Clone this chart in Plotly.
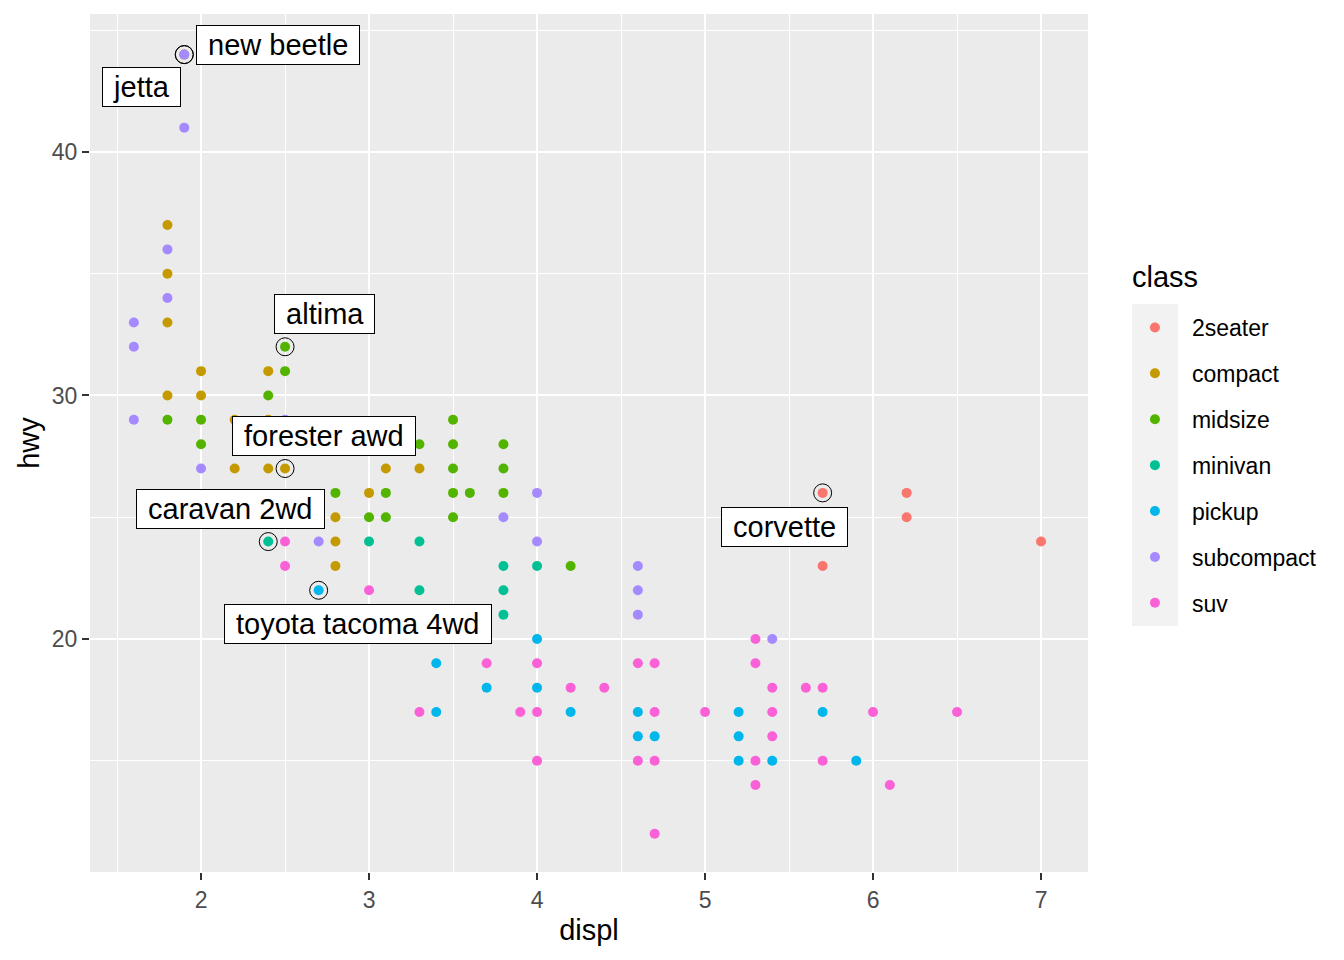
import plotly.graph_objects as go

# mpg: displ vs hwy, coloured by class (unique positions)
classes = ["2seater", "compact", "midsize", "minivan", "pickup", "subcompact", "suv"]
colors = ["#F8766D", "#C49A00", "#53B400", "#00C094", "#00B6EB", "#A58AFF", "#FB61D7"]

seater_displ = [5.7, 5.7, 6.2, 6.2, 7.0]
seater_hwy = [26, 23, 26, 25, 24]

compact_displ = [1.8, 1.8, 1.8, 1.8, 1.9, 2.0, 2.0, 2.2, 2.2, 2.4, 2.4, 2.4, 2.5,
                 2.8, 2.8, 2.8, 3.0, 3.1, 3.3]
compact_hwy = [37, 35, 33, 30, 44, 31, 30, 29, 27, 31, 29, 27, 27,
               25, 24, 23, 26, 27, 27]

midsize_displ = [1.8, 2.0, 2.0, 2.4, 2.5, 2.5, 2.8, 3.0, 3.1, 3.1, 3.3, 3.5, 3.5,
                 3.5, 3.5, 3.5, 3.6, 3.8, 3.8, 3.8, 4.2]
midsize_hwy = [29, 29, 28, 30, 32, 31, 26, 25, 26, 25, 28, 29, 28,
               27, 26, 25, 26, 28, 27, 26, 23]

minivan_displ = [2.4, 3.0, 3.3, 3.3, 3.8, 3.8, 3.8, 4.0]
minivan_hwy = [24, 24, 24, 22, 23, 22, 21, 23]

pickup_displ = [2.7, 3.4, 3.4, 3.7, 4.0, 4.0, 4.2, 4.6, 4.6, 4.7, 5.2, 5.2, 5.2,
                5.4, 5.7, 5.9]
pickup_hwy = [22, 19, 17, 18, 20, 18, 17, 17, 16, 16, 17, 16, 15,
              15, 17, 15]

subcompact_displ = [1.6, 1.6, 1.6, 1.8, 1.8, 1.9, 1.9, 2.0, 2.5, 2.7, 3.8, 4.0,
                    4.0, 4.6, 4.6, 4.6, 5.4]
subcompact_hwy = [33, 32, 29, 36, 34, 44, 41, 27, 29, 24, 25, 26,
                  24, 23, 22, 21, 20]

suv_displ = [2.5, 2.5, 3.0, 3.3, 3.7, 3.9, 4.0, 4.0, 4.0, 4.2, 4.4, 4.6, 4.6, 4.7,
             4.7, 4.7, 4.7, 5.0, 5.3, 5.3, 5.3, 5.3, 5.4, 5.4, 5.4, 5.6, 5.7,
             5.7, 6.0, 6.1, 6.5]
suv_hwy = [24, 23, 22, 17, 19, 17, 19, 17, 15, 18, 18, 19, 15, 19,
           17, 15, 12, 17, 20, 19, 15, 14, 18, 17, 16, 18, 18,
           15, 17, 14, 17]

# best in class (highest hwy per class)
label_text = ["corvette", "jetta", "altima", "caravan 2wd", "toyota tacoma 4wd",
              "new beetle", "forester awd"]
label_displ = [5.7, 1.9, 2.5, 2.4, 2.7, 1.9, 2.5]
label_hwy = [26, 44, 32, 24, 22, 44, 27]

all_displ = [seater_displ, compact_displ, midsize_displ, minivan_displ,
             pickup_displ, subcompact_displ, suv_displ]
all_hwy = [seater_hwy, compact_hwy, midsize_hwy, minivan_hwy,
           pickup_hwy, subcompact_hwy, suv_hwy]

# label offsets in pixels (repel placement)
label_shift = [(-38, -34), (-43, -32), (39, 33), (-38, 33), (39, -34), (94, 10), (39, 33)]

FONT = "Liberation Sans, Arial, sans-serif"

fig = go.Figure()

for cls, col, xs, ys in zip(classes, colors, all_displ, all_hwy):
    fig.add_trace(go.Scatter(
        x=xs, y=ys, mode="markers", name=cls, legendgroup=cls,
        marker=dict(color=col, size=10, line=dict(width=0)),
    ))

# hollow circles around the labelled points
fig.add_trace(go.Scatter(
    x=label_displ, y=label_hwy, mode="markers", showlegend=False,
    marker=dict(symbol="circle-open", size=18, color="black", line=dict(width=1)),
))

for txt, x, y, (dx, dy) in zip(label_text, label_displ, label_hwy, label_shift):
    fig.add_annotation(
        x=x, y=y, text="\u00a0" + txt + "\u00a0", showarrow=False,
        xshift=dx, yshift=dy,
        font=dict(family=FONT, size=29, color="black"),
        bgcolor="white", bordercolor="black", borderwidth=1, borderpad=3,
    )

# legend title and grey backing of the legend keys
fig.add_annotation(
    text="class", xref="paper", yref="paper", x=1.042, y=0.693,
    xanchor="left", yanchor="middle", showarrow=False,
    font=dict(family=FONT, size=29, color="black"),
)
fig.add_shape(type="rect", xref="paper", yref="paper",
              x0=1.0441, x1=1.0902, y0=0.2867, y1=0.662,
              fillcolor="#F2F2F2", line=dict(width=0), layer="below")

axis_common = dict(
    showline=False, zeroline=False,
    gridcolor="white", gridwidth=2,
    ticks="outside", ticklen=7, tickwidth=2, tickcolor="#333333",
    tickfont=dict(family=FONT, size=23, color="#4D4D4D"),
)

fig.update_xaxes(
    range=[1.339, 7.2795], tickvals=[2, 3, 4, 5, 6, 7],
    minor=dict(tickvals=[1.5, 2.5, 3.5, 4.5, 5.5, 6.5], showgrid=True,
               gridcolor="white", gridwidth=1, ticks=""),
    title=dict(text="displ", font=dict(family=FONT, size=29, color="black"), standoff=8),
    **axis_common,
)
fig.update_yaxes(
    range=[10.43, 45.667], tickvals=[20, 30, 40],
    minor=dict(tickvals=[15, 25, 35, 45], showgrid=True,
               gridcolor="white", gridwidth=1, ticks=""),
    title=dict(text="hwy", font=dict(family=FONT, size=29, color="black"), standoff=3),
    **axis_common,
)

# page body adds an 8px margin, so the figure is 8px smaller each way
fig.update_layout(
    width=1336, height=952,
    margin=dict(l=82, r=256, t=6, b=88, autoexpand=False),
    plot_bgcolor="#EBEBEB", paper_bgcolor="white",
    font=dict(family=FONT),
    legend=dict(
        font=dict(family=FONT, size=23, color="black"),
        x=1.030, xanchor="left", y=0.6597, yanchor="top",
        itemwidth=64, tracegroupgap=13, bgcolor="rgba(0,0,0,0)",
    ),
)

fig.write_html("out.html")
